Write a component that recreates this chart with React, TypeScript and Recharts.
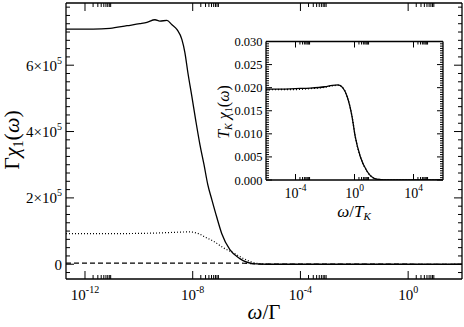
import React from 'react';
import { LineChart, Line, XAxis, YAxis } from 'recharts';

// main panel, x given as log10(omega/Gamma)
const solidLogW = [-12.705, -11.7, -11.07, -10.44, -9.96, -9.7, -9.4, -9.22, -8.96, -8.77, -8.58, -8.4, -8.29, -8.18, -8.03, -7.88, -7.73, -7.58, -7.44, -7.29, -7.1, -6.92, -6.62, -6.25, -5.76, -5.24, 2];
const solidVals = [709000, 709000, 711000, 719000, 725000, 729000, 737000, 733000, 735000, 722000, 707000, 677000, 638000, 578000, 505000, 430000, 360000, 300000, 240000, 195000, 140000, 92000, 44000, 17000, 2000, 0, 0];

const dottedLogW = [-12.705, -10.5, -9.4, -8.7, -8.15, -7.77, -7.59, -7.22, -6.85, -6.48, -6.11, -5.63, -5.1, 2];
const dottedVals = [92000, 92500, 94000, 96000, 97500, 92000, 84000, 69000, 49000, 34000, 17000, 3000, 0, 0];

const dashedLogW = [-12.705, -6.5, -6.1, -5.8, -5.4, 2];
const dashedVals = [3500, 3500, 3000, 1800, 300, 0];

// inset, x given as log10(omega/T_K)
const insetLogW = [-6, -5, -4, -3, -2, -1.5, -1.1, -0.8, -0.5, -0.17, 0.05, 0.39, 0.85, 1.5, 2.5, 6];
const insetSolid = [0.0197, 0.0197, 0.0198, 0.0199, 0.0202, 0.0205, 0.0206, 0.02, 0.0181, 0.0138, 0.0094, 0.0051, 0.0019, 0.0002, 0, 0];
const insetDotted = [0.0195, 0.0196, 0.0196, 0.0198, 0.0201, 0.0204, 0.0205, 0.02, 0.0181, 0.0138, 0.0094, 0.0051, 0.0019, 0.0002, 0, 0];

const mainDecades = [-12, -8, -4, 0];
const insetDecades = [-4, 0, 4];

const toPoints = (logs: number[], vals: number[]) => logs.map((l, i) => ({ w: Math.pow(10, l), v: vals[i] }));

const logTicks = (decades: number[]) => {
  const out: number[] = [];
  decades.forEach(d => {
    for (let m = 1; m <= 9; m++) out.push(m * Math.pow(10, d));
  });
  return out;
};

const isDecade = (v: number) => Math.abs(Math.log10(v) - Math.round(Math.log10(v))) < 1e-6;

const mainYTicks = Array.from({ length: 33 }, (_, i) => (i - 1) * 25000);
const insetYTicks = Array.from({ length: 61 }, (_, i) => i * 0.0005);

const FONT = 'Liberation Serif';

type TickCfg = {
  side: 'bottom' | 'top' | 'left' | 'right';
  major: number;
  minor: number;
  isMajor: (v: number) => boolean;
  label?: (v: number) => React.ReactNode;
  dy?: number;
  dx?: number;
  fontSize?: number;
};

function makeTick(cfg: TickCfg) {
  return (p: any) => {
    const { x, y, payload } = p;
    const v = payload.value;
    const maj = cfg.isMajor(v);
    const L = maj ? cfg.major : cfg.minor;
    let x2 = x;
    let y2 = y;
    if (cfg.side === 'bottom') y2 = y - L;
    if (cfg.side === 'top') y2 = y + L;
    if (cfg.side === 'left') x2 = x + L;
    if (cfg.side === 'right') x2 = x - L;
    let text = null;
    if (maj && cfg.label) {
      const horiz = cfg.side === 'bottom';
      text = (
        <text
          x={x + (cfg.dx || 0)}
          y={y + (cfg.dy || 0)}
          textAnchor={horiz ? 'middle' : 'end'}
          style={{ fontFamily: FONT }}
          fontSize={cfg.fontSize}
          fill="#000"
        >
          {cfg.label(v)}
        </text>
      );
    }
    return (
      <g>
        <line x1={x} y1={y} x2={x2} y2={y2} stroke="#000" strokeWidth={1} />
        {text}
      </g>
    );
  };
}

const powLabel = (sup: number, supDy: number) => (v: number) => {
  const e = Math.round(Math.log10(v));
  return [
    <tspan key="b">10</tspan>,
    <tspan key="e" dy={supDy} fontSize={sup}>{`${e}`}</tspan>,
  ];
};

const sciLabel = (v: number) => {
  if (v === 0) return '0';
  return [
    <tspan key="b">{`${Math.round(v / 1e5)}×10`}</tspan>,
    <tspan key="e" dy={-7} fontSize={10}>5</tspan>,
  ];
};

const axisLine = { stroke: '#000', strokeWidth: 1.3 };

function MainChart() {
  const solid = toPoints(solidLogW, solidVals);
  return (
    <LineChart width={464} height={327} margin={{ top: 2, right: 1, bottom: 0, left: 0 }}>
      <XAxis
        xAxisId="b"
        type="number"
        dataKey="w"
        scale="log"
        domain={[Math.pow(10, -12.705), 100]}
        allowDataOverflow
        ticks={logTicks(mainDecades)}
        interval={0}
        height={48}
        tickSize={0}
        tickMargin={0}
        tickLine={false}
        axisLine={axisLine}
        tick={makeTick({ side: 'bottom', major: 8, minor: 4, isMajor: isDecade, label: powLabel(10, -7), dy: 21, fontSize: 15 })}
      />
      <XAxis
        xAxisId="t"
        orientation="top"
        type="number"
        dataKey="w"
        scale="log"
        domain={[Math.pow(10, -12.705), 100]}
        allowDataOverflow
        ticks={logTicks(mainDecades)}
        interval={0}
        height={1}
        tickSize={0}
        tickMargin={0}
        tickLine={false}
        axisLine={axisLine}
        tick={makeTick({ side: 'top', major: 8, minor: 4, isMajor: isDecade })}
      />
      <YAxis
        yAxisId="l"
        type="number"
        domain={[-44500, 787500]}
        allowDataOverflow
        ticks={mainYTicks}
        interval={0}
        width={66}
        tickSize={0}
        tickMargin={0}
        tickLine={false}
        axisLine={axisLine}
        tick={makeTick({ side: 'left', major: 8, minor: 4, isMajor: v => v % 200000 === 0, label: sciLabel, dx: -4, dy: 5.5, fontSize: 15 })}
      />
      <YAxis
        yAxisId="r"
        orientation="right"
        type="number"
        domain={[-44500, 787500]}
        allowDataOverflow
        ticks={mainYTicks}
        interval={0}
        width={1}
        tickSize={0}
        tickMargin={0}
        tickLine={false}
        axisLine={axisLine}
        tick={makeTick({ side: 'right', major: 8, minor: 4, isMajor: v => v % 200000 === 0 })}
      />
      <Line xAxisId="t" yAxisId="r" data={solid} dataKey="v" stroke="none" dot={false} activeDot={false} isAnimationActive={false} />
      <Line xAxisId="b" yAxisId="l" data={toPoints(dashedLogW, dashedVals)} dataKey="v" type="monotone" stroke="#000" strokeWidth={1.2} strokeDasharray="5 3" dot={false} isAnimationActive={false} />
      <Line xAxisId="b" yAxisId="l" data={toPoints(dottedLogW, dottedVals)} dataKey="v" type="monotone" stroke="#000" strokeWidth={1.2} strokeDasharray="1 2" dot={false} isAnimationActive={false} />
      <Line xAxisId="b" yAxisId="l" data={solid} dataKey="v" type="monotone" stroke="#000" strokeWidth={1.3} dot={false} isAnimationActive={false} />
    </LineChart>
  );
}

function InsetChart() {
  const isMajY = (v: number) => Math.round(v / 0.0005) % 10 === 0;
  const solid = toPoints(insetLogW, insetSolid);
  return (
    <LineChart width={260} height={200} margin={{ top: 20.5, right: 16, bottom: 0, left: 0 }}>
      <XAxis
        xAxisId="b"
        type="number"
        dataKey="w"
        scale="log"
        domain={[1e-6, 1e6]}
        allowDataOverflow
        ticks={logTicks(insetDecades)}
        interval={0}
        height={40}
        tickSize={0}
        tickMargin={0}
        tickLine={false}
        axisLine={axisLine}
        tick={makeTick({ side: 'bottom', major: 6, minor: 3, isMajor: isDecade, label: powLabel(9.5, -7), dy: 18, fontSize: 14 })}
      />
      <XAxis
        xAxisId="t"
        orientation="top"
        type="number"
        dataKey="w"
        scale="log"
        domain={[1e-6, 1e6]}
        allowDataOverflow
        ticks={logTicks(insetDecades)}
        interval={0}
        height={1}
        tickSize={0}
        tickMargin={0}
        tickLine={false}
        axisLine={axisLine}
        tick={makeTick({ side: 'top', major: 6, minor: 3, isMajor: isDecade })}
      />
      <YAxis
        yAxisId="l"
        type="number"
        domain={[0, 0.03]}
        allowDataOverflow
        ticks={insetYTicks}
        interval={0}
        width={66}
        tickSize={0}
        tickMargin={0}
        tickLine={false}
        axisLine={axisLine}
        tick={makeTick({ side: 'left', major: 6, minor: 3, isMajor: isMajY, label: v => v.toFixed(3), dx: -3.5, dy: 4.5, fontSize: 12.5 })}
      />
      <YAxis
        yAxisId="r"
        orientation="right"
        type="number"
        domain={[0, 0.03]}
        allowDataOverflow
        ticks={insetYTicks}
        interval={0}
        width={1}
        tickSize={0}
        tickMargin={0}
        tickLine={false}
        axisLine={axisLine}
        tick={makeTick({ side: 'right', major: 6, minor: 3, isMajor: isMajY })}
      />
      <Line xAxisId="t" yAxisId="r" data={solid} dataKey="v" stroke="none" dot={false} activeDot={false} isAnimationActive={false} />
      <Line xAxisId="b" yAxisId="l" data={toPoints(insetLogW, insetDotted)} dataKey="v" type="monotone" stroke="#000" strokeWidth={1.3} strokeDasharray="1 2" dot={false} isAnimationActive={false} />
      <Line xAxisId="b" yAxisId="l" data={solid} dataKey="v" type="monotone" stroke="#000" strokeWidth={1.3} dot={false} isAnimationActive={false} />
    </LineChart>
  );
}

function Titles() {
  const f = { fontFamily: FONT };
  return (
    <svg width={464} height={327} style={{ position: 'absolute', left: 0, top: 0, pointerEvents: 'none' }}>
      <text transform="translate(19,140) rotate(-90)" textAnchor="middle" style={f} fontSize={22} fill="#000">
        <tspan>Γ</tspan>
        <tspan fontStyle="italic">χ</tspan>
        <tspan fontSize={14} dy={4}>1</tspan>
        <tspan dy={-4}>(</tspan>
        <tspan fontStyle="italic">ω</tspan>
        <tspan>)</tspan>
      </text>
      <text x={264} y={319} textAnchor="middle" style={f} fontSize={21} fill="#000">
        <tspan fontStyle="italic">ω</tspan>
        <tspan>/Γ</tspan>
      </text>
      <text transform="translate(229,112) rotate(-90)" textAnchor="middle" style={f} fontSize={16} fill="#000">
        <tspan fontStyle="italic">T</tspan>
        <tspan fontSize={10} dy={3} fontStyle="italic">K</tspan>
        <tspan dy={-3}> </tspan>
        <tspan fontStyle="italic">χ</tspan>
        <tspan fontSize={10} dy={3}>1</tspan>
        <tspan dy={-3}>(</tspan>
        <tspan fontStyle="italic">ω</tspan>
        <tspan>)</tspan>
      </text>
      <text x={354} y={217} textAnchor="middle" style={f} fontSize={17} fill="#000">
        <tspan fontStyle="italic">ω</tspan>
        <tspan>/</tspan>
        <tspan fontStyle="italic">T</tspan>
        <tspan fontSize={11} dy={3} fontStyle="italic">K</tspan>
      </text>
    </svg>
  );
}

export default function App() {
  return (
    <div style={{ position: 'absolute', left: 0, top: 0, width: 464, height: 327, background: '#fff' }}>
      <div style={{ position: 'absolute', left: 0, top: 0 }}>
        <MainChart />
      </div>
      <div style={{ position: 'absolute', left: 200, top: 20 }}>
        <InsetChart />
      </div>
      <Titles />
    </div>
  );
}
